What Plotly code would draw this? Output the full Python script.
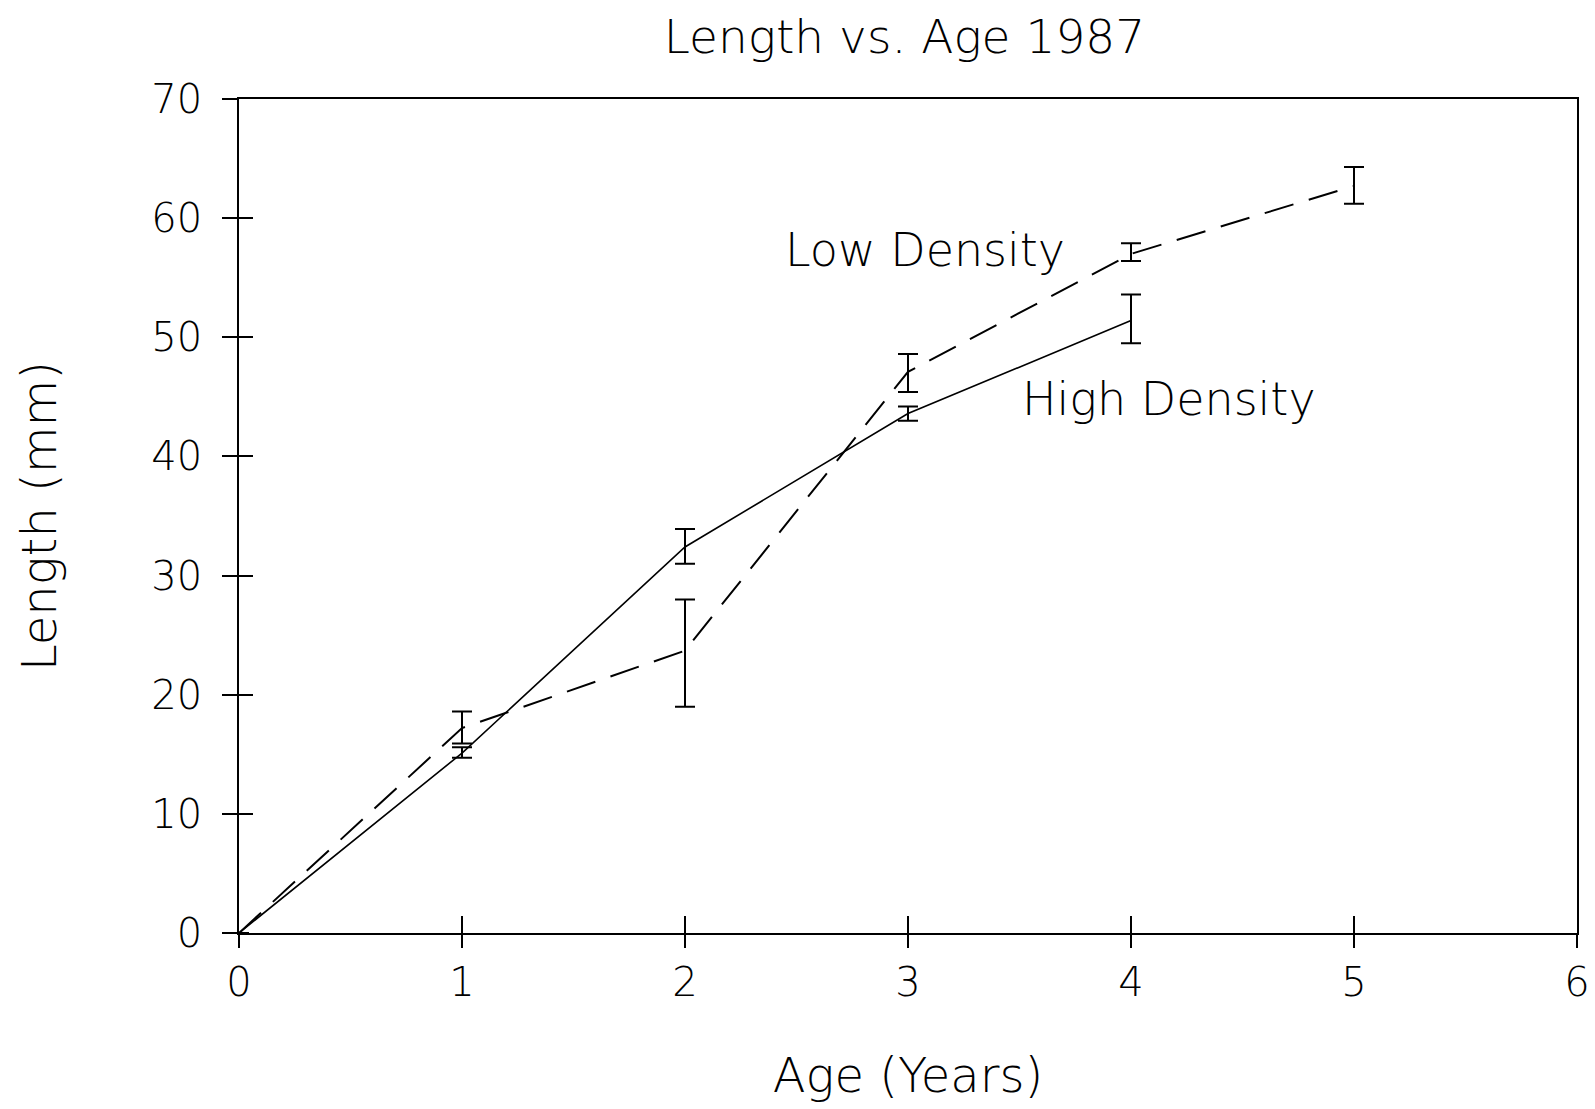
import plotly.graph_objects as go

# Data
ages_high = [0, 1, 2, 3, 4]
len_high = [0, 15.1, 32.4, 43.6, 51.4]
err_high_plus = [None, 0.5, 1.5, 0.6, 2.2]
err_high_minus = [None, 0.4, 1.4, 0.6, 1.9]

ages_low = [0, 1, 2, 3, 4, 5]
len_low = [0, 17.2, 23.7, 47.1, 57.0, 62.7]
err_low_plus = [None, 1.4, 4.3, 1.5, 0.9, 1.6]
err_low_minus = [None, 1.3, 4.7, 1.7, 0.6, 1.5]

x_ticks = [0, 1, 2, 3, 4, 5, 6]
y_ticks = [0, 10, 20, 30, 40, 50, 60, 70]

FONT = "'DejaVu Sans', sans-serif"

fig = go.Figure()
fig.add_trace(go.Scatter(
    x=ages_high, y=len_high, mode="lines",
    line=dict(color="black", width=1.6),
    error_y=dict(type="data", symmetric=False, array=err_high_plus,
                 arrayminus=err_high_minus, color="black", thickness=2, width=10),
    showlegend=False, hoverinfo="skip"))
fig.add_trace(go.Scatter(
    x=ages_low, y=len_low, mode="lines",
    line=dict(color="black", width=2, dash="30px,16px"),
    error_y=dict(type="data", symmetric=False, array=err_low_plus,
                 arrayminus=err_low_minus, color="black", thickness=2, width=10),
    showlegend=False, hoverinfo="skip"))
# invisible trace to activate the overlay axes (inside ticks)
fig.add_trace(go.Scatter(x=[None], y=[None], xaxis="x2", yaxis="y2",
                         showlegend=False, hoverinfo="skip"))

tick_font = dict(family=FONT, size=40, color="black", weight=200)
title_font = dict(family=FONT, size=48, color="black", weight=200)
head_font = dict(family=FONT, size=47, color="black", weight=200)
ann_font = dict(family=FONT, size=46, color="black", weight=200)
fig.update_layout(
    width=1595, height=1109,
    margin=dict(l=231, r=26, t=91, b=184, autoexpand=False),
    paper_bgcolor="white", plot_bgcolor="white",
    font=dict(family=FONT, color="black"),
    title=dict(text="Length vs. Age 1987", x=0.562, xanchor="center",
               y=0.9745, yanchor="middle", font=head_font),
    xaxis=dict(range=[0, 6], tickvals=x_ticks, ticks="outside", ticklen=13,
               tickwidth=1.5, tickcolor="black", showline=True, linecolor="black",
               linewidth=1.5, mirror=True, showgrid=False, zeroline=False,
               tickfont=tick_font, ticklabelstandoff=0, automargin=False,
               title=dict(text="Age (Years)", font=title_font, standoff=55)),
    yaxis=dict(range=[0, 70], tickvals=y_ticks, ticks="outside", ticklen=15,
               tickwidth=1.5, tickcolor="black", showline=True, linecolor="black",
               linewidth=1.5, mirror=True, showgrid=False, zeroline=False,
               tickfont=tick_font, ticklabelstandoff=12, automargin=False,
               title=dict(text="Length (mm)", font=title_font, standoff=80)),
    xaxis2=dict(range=[0, 6], tickvals=x_ticks, ticks="inside", ticklen=17,
                tickwidth=1.5, tickcolor="black", overlaying="x", anchor="y2",
                side="bottom", showticklabels=False, showgrid=False,
                zeroline=False, showline=False, automargin=False),
    yaxis2=dict(range=[0, 70], tickvals=y_ticks, ticks="inside", ticklen=14,
                tickwidth=1.5, tickcolor="black", overlaying="y", anchor="x2",
                side="left", showticklabels=False, showgrid=False,
                zeroline=False, showline=False, automargin=False),
    annotations=[
        dict(x=3.075, y=57.3, xref="x", yref="y", text="Low Density",
             showarrow=False, font=ann_font),
        dict(x=4.17, y=44.85, xref="x", yref="y", text="High Density",
             showarrow=False, font=ann_font),
    ],
)

fig.write_html("out.html")
